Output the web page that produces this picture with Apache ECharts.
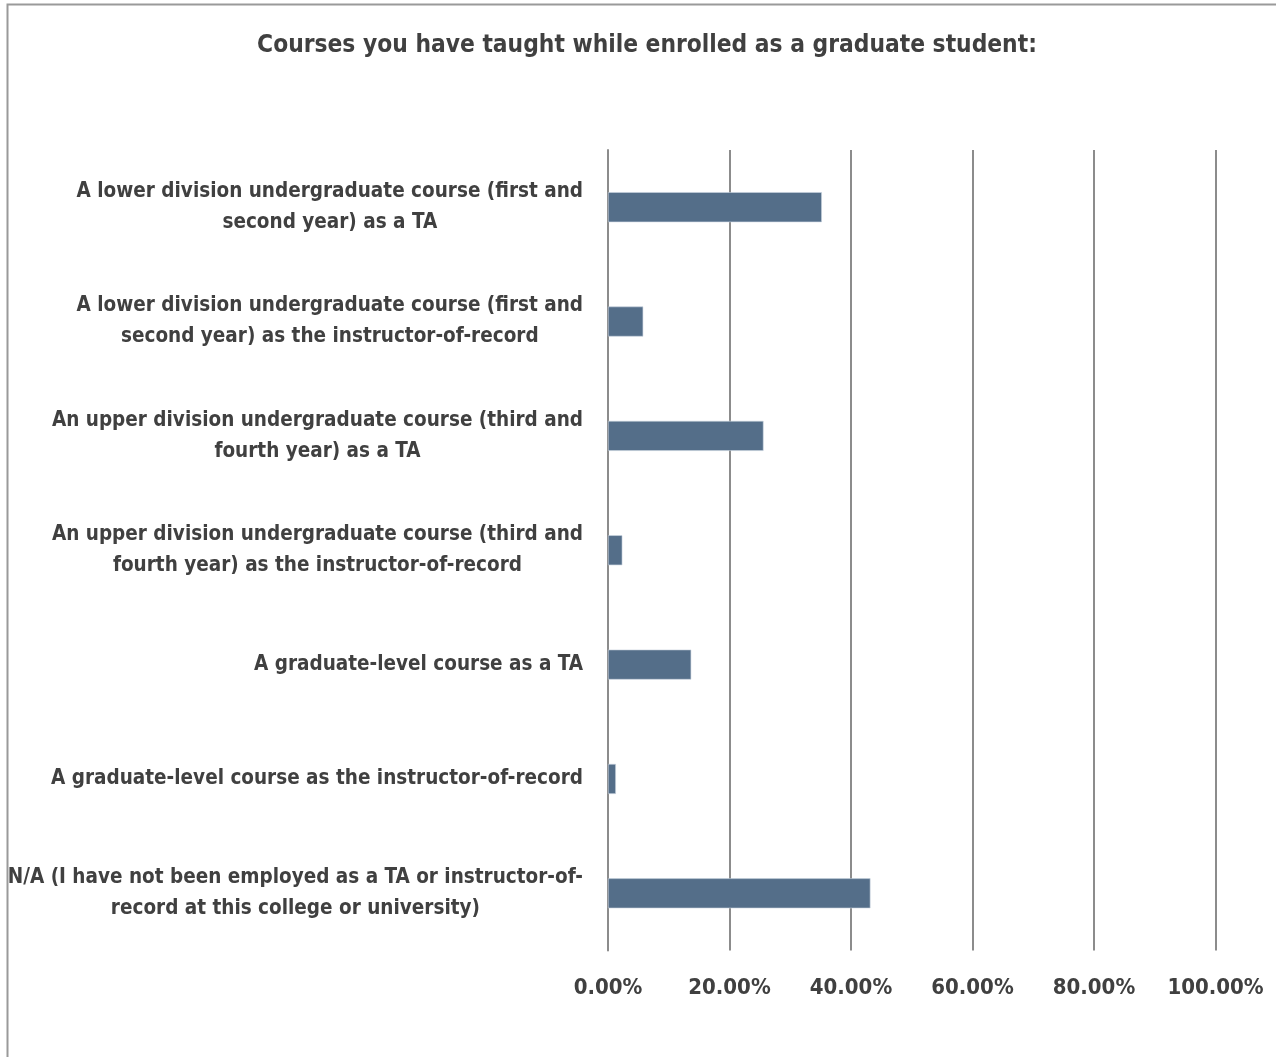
<!DOCTYPE html>
<html>
<head>
<meta charset="utf-8">
<script src="https://cdn.jsdelivr.net/npm/echarts@6/dist/echarts.min.js"></script>
<style>
  html, body { margin: 0; padding: 0; background: #fff; }
  #chart { width: 1276px; height: 1057px; }
</style>
</head>
<body>
<div id="chart"></div>
<script>
const FONT = "'Liberation Sans Narrow', 'Arial Narrow', 'DejaVu Sans Condensed', sans-serif";
const TEXT = '#404040';

const categories = [
  'A lower division undergraduate course (first and\nsecond year) as a TA',
  'A lower division undergraduate course (first and\nsecond year) as the instructor-of-record',
  'An upper division undergraduate course (third and\nfourth year) as a TA',
  'An upper division undergraduate course (third and\nfourth year) as the instructor-of-record',
  'A graduate-level course as a TA',
  'A graduate-level course as the instructor-of-record',
  'N/A (I have not been employed as a TA or instructor-of-\nrecord at this college or university)'
];
const shares = [35.2, 5.8, 25.6, 2.36, 13.7, 1.3, 43.2];
const xTicks = [0, 20, 40, 60, 80, 100];

const chart = echarts.init(document.getElementById('chart'));

chart.setOption({
  backgroundColor: '#fff',
  animation: false,
  title: {
    text: 'Courses you have taught while enrolled as a graduate student:',
    left: 642,
    textAlign: 'center',
    top: 29,
    textStyle: { fontFamily: FONT, fontSize: 24.3, fontWeight: 'bold', color: TEXT }
  },
  graphic: [{
    type: 'rect',
    shape: { x: 7.5, y: 4.5, width: 1400, height: 1200 },
    style: { fill: 'none', stroke: '#9a9a9a', lineWidth: 2 },
    silent: true
  }],
  grid: { left: 608, right: 60.5, top: 150, bottom: 106.5, outerBoundsMode: 'none', containLabel: false },
  xAxis: {
    type: 'value',
    min: xTicks[0],
    max: xTicks[xTicks.length - 1],
    interval: 20,
    axisLine: { show: false },
    axisTick: { show: false },
    splitLine: { show: true, lineStyle: { color: '#8c8c8c', width: 2 } },
    axisLabel: {
      margin: 27,
      showMaxLabel: true,
      hideOverlap: false,
      fontFamily: FONT, fontSize: 22, fontWeight: 'bold', color: TEXT,
      formatter: v => v.toFixed(2) + '%'
    }
  },
  yAxis: {
    type: 'category',
    data: categories,
    inverse: true,
    axisLine: { show: true, lineStyle: { color: '#8c8c8c', width: 2 } },
    axisTick: { show: false },
    axisLabel: {
      margin: 25,
      lineHeight: 31,
      formatter: v => v.split('\n').map(l => '{c|' + l + '}').join('\n'),
      rich: {
        c: { align: 'center', fontFamily: FONT, fontSize: 20.5, fontWeight: 'bold', color: TEXT, lineHeight: 31 }
      }
    }
  },
  series: [{
    type: 'bar',
    data: shares,
    barWidth: 30,
    itemStyle: { color: '#546e89', borderColor: '#c9d3df', borderWidth: 0.6 }
  }]
});
</script>
</body>
</html>
